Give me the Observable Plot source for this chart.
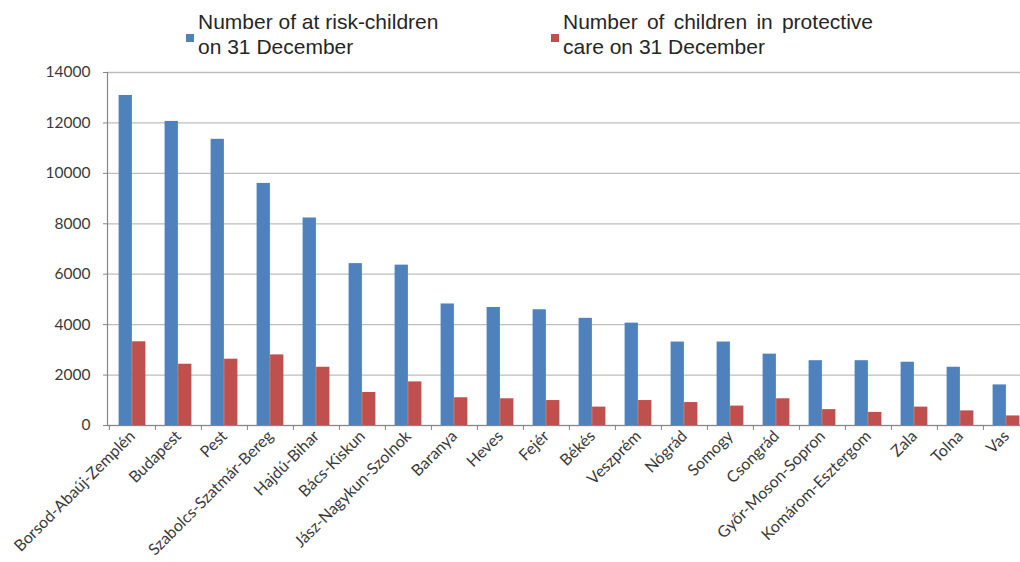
<!DOCTYPE html>
<html>
<head>
<meta charset="utf-8">
<script src="https://cdn.jsdelivr.net/npm/d3@7"></script>
<script src="https://cdn.jsdelivr.net/npm/@observablehq/plot@0.6"></script>
<style>
  html, body { margin: 0; padding: 0; background: #fff; overflow: hidden; }
  #wrap { position: relative; width: 1020px; height: 562px; overflow: hidden; }
  #chart { position: absolute; left: 0; top: 0; width: 1032px; }
  #chart svg { max-width: none; }
  .legend { position: absolute; font-family: "Liberation Sans", Arial, sans-serif; font-size: 21px; line-height: 25px; color: #262626; white-space: nowrap; }
  .swatch { position: absolute; width: 8px; height: 8px; }
  .just { text-align: justify; text-align-last: justify; }
</style>
</head>
<body>
<div id="wrap">
  <div id="chart"></div>
  <div class="swatch" style="left:186px;top:34px;background:#4F81BD"></div>
  <div class="legend" style="left:198px;top:9px">Number of at risk-children<br>on 31 December</div>
  <div class="swatch" style="left:551px;top:34px;background:#C0504D"></div>
  <div class="legend" style="left:563px;top:9px">
    <div class="just" style="width:310px">Number of children in protective</div>
    <div>care on 31 December</div>
  </div>
</div>
<script>
// Counties of Hungary, ordered by number of at-risk children
const counties = [
  "Borsod-Abaúj-Zemplén", "Budapest", "Pest", "Szabolcs-Szatmár-Bereg", "Hajdú-Bihar",
  "Bács-Kiskun", "Jász-Nagykun-Szolnok", "Baranya", "Heves", "Fejér",
  "Békés", "Veszprém", "Nógrád", "Somogy", "Csongrád",
  "Győr-Moson-Sopron", "Komárom-Esztergom", "Zala", "Tolna", "Vas"
];
// Number of at-risk children on 31 December
const atRisk = [
  13090, 12060, 11350, 9600, 8230,
  6420, 6360, 4820, 4680, 4590,
  4250, 4060, 3310, 3310, 2830,
  2570, 2570, 2510, 2310, 1610
];
// Number of children in protective care on 31 December
const protective = [
  3320, 2430, 2630, 2800, 2310,
  1310, 1730, 1100, 1060, 990,
  730, 990, 910, 770, 1060,
  630, 520, 730, 580, 380
];
const yTicks = [0, 2000, 4000, 6000, 8000, 10000, 12000, 14000];

const data = counties.map((county, i) => ({county, atRisk: atRisk[i], protective: protective[i]}));

const step = 924 / counties.length; // width of one county band
const barW = 13.5;
const half = step / 2;

const chart = Plot.plot({
  width: 1032,
  height: 562,
  marginTop: 72,
  marginLeft: 107,
  marginRight: 1,
  marginBottom: 137,
  style: {fontFamily: "Lato, sans-serif", fontSize: "16px", color: "#3a3a3a", background: "transparent", maxWidth: "none"},
  x: {domain: counties, padding: 0, label: null},
  y: {domain: [0, 14000], ticks: yTicks, label: null},
  marks: [
    Plot.gridY(yTicks, {stroke: "#bdbdbd", strokeOpacity: 1, strokeWidth: 1.3}),
    Plot.barY(data, {x: "county", y: "atRisk", fill: "#4F81BD", insetLeft: half - barW, insetRight: half}),
    Plot.barY(data, {x: "county", y: "protective", fill: "#C0504D", insetLeft: half, insetRight: half - barW}),
    Plot.ruleY([0], {stroke: "#868686", strokeWidth: 1.2}),
    Plot.frame({anchor: "left", stroke: "#868686", strokeWidth: 1.2}),
    Plot.axisY(yTicks, {tickSize: 4, tickPadding: 13, stroke: "#868686", fill: "#3a3a3a", fontSize: 15.5, tickFormat: d => String(d)}),
    Plot.axisX({tickSize: 5, tickFormat: () => "", dx: -half, stroke: "#868686"}),
    Plot.axisX({tickSize: 0, tickPadding: 8, tickRotate: -45, fill: "#3a3a3a"})
  ]
});
document.getElementById("chart").appendChild(chart);
</script>
</body>
</html>
